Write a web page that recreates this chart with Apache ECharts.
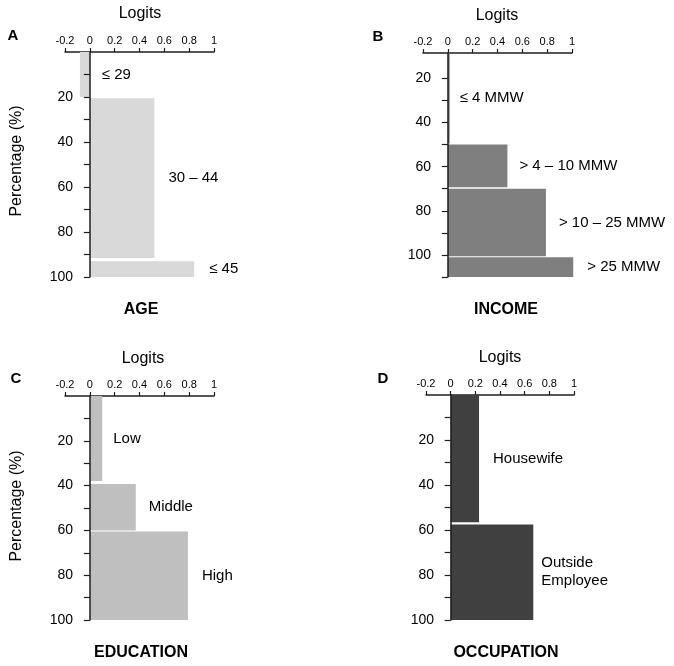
<!DOCTYPE html>
<html>
<head>
<meta charset="utf-8">
<script src="https://cdn.jsdelivr.net/npm/echarts@6/dist/echarts.min.js"></script>
<style>
html,body{margin:0;padding:0;background:#fff;}
#chart{width:674px;height:666px;}
</style>
</head>
<body>
<div id="chart"></div>
<script>
// ---- Data ----
const xTicksMin = -0.2, xTicksMax = 1, xTickStep = 0.2;

const ageLabels = ['≤ 29', '30 – 44', '≤ 45'];
const ageStart  = [0, 20.5, 93];
const ageEnd    = [20, 91.5, 100];
const ageLogits = [-0.08, 0.52, 0.84];

const incomeLabels = ['≤ 4 MMW', '> 4 – 10 MMW', '> 10 – 25 MMW', '> 25 MMW'];
const incomeStart  = [8.5, 50, 70, 101];
const incomeEnd    = [49.5, 69.3, 100.6, 110];
const incomeLogits = [0.015, 0.48, 0.79, 1.01];

const eduLabels = ['Low', 'Middle', 'High'];
const eduStart  = [0, 39.3, 60.5];
const eduEnd    = [38, 60, 100];
const eduLogits = [0.10, 0.37, 0.79];

const occLabels = ['Housewife', 'Outside\nEmployee'];
const occStart  = [0, 57.5];
const occEnd    = [56.5, 100];
const occLogits = [0.23, 0.67];

const yTicks100 = [10, 20, 30, 40, 50, 60, 70, 80, 90, 100];
const yTicks110 = [20, 30, 40, 50, 60, 70, 80, 90, 100, 110];
const yLabelVals = [20, 40, 60, 80, 100];

// ---- Layout ----
const FONT = 'Liberation Sans, Arial, Helvetica, sans-serif';
const AX = '#1e1e1e';

const panels = [
  {grid:{left:65, top:52, width:149, height:225}, yMin:0, yMax:100, ticks:yTicks100,
   labels:ageLabels, s:ageStart, e:ageEnd, v:ageLogits, color:'#d9d9d9', lblOff:[12,14,15]},
  {grid:{left:423, top:53, width:149, height:224}, yMin:8.5, yMax:110, ticks:yTicks110,
   labels:incomeLabels, s:incomeStart, e:incomeEnd, v:incomeLogits, color:'#7f7f7f', lblOff:[10,12,13,14]},
  {grid:{left:65, top:396, width:149, height:224}, yMin:0, yMax:100, ticks:yTicks100,
   labels:eduLabels, s:eduStart, e:eduEnd, v:eduLogits, color:'#bfbfbf', lblOff:[11,13,14]},
  {grid:{left:426, top:395, width:148, height:225}, yMin:0, yMax:100, ticks:yTicks100,
   labels:occLabels, s:occStart, e:occEnd, v:occLogits, color:'#404040', lblOff:[14,8]}
];

const grids = [], xAxes = [], yAxes = [], series = [];
panels.forEach((p, i) => {
  grids.push(p.grid);
  xAxes.push({
    type:'value', gridIndex:i, position:'top', min:xTicksMin, max:xTicksMax, interval:xTickStep,
    axisLine:{show:true, onZero:false, lineStyle:{color:AX, width:1.5}},
    axisTick:{show:true, length:4, lineStyle:{color:AX, width:1.2}},
    axisLabel:{show:true, margin:6, color:'#000', fontSize:11, fontFamily:FONT,
      formatter: v => String(Math.round(v*10)/10)},
    splitLine:{show:false}
  });
  yAxes.push({
    type:'value', gridIndex:i, inverse:true, min:p.yMin, max:p.yMax, z:5,
    axisLine:{show:true, onZero:true, lineStyle:{color:AX, width:1.5}},
    axisTick:{show:true, length:6, customValues:p.ticks, lineStyle:{color:AX, width:1.2}},
    axisLabel:{show:true, margin:-8, color:'#000', fontSize:14, fontFamily:FONT, customValues:yLabelVals},
    splitLine:{show:false}
  });
  const labels = p.labels, offs = p.lblOff, color = p.color;
  series.push({
    type:'custom', xAxisIndex:i, yAxisIndex:i, z:2,
    data: labels.map((l, k) => [p.s[k], p.e[k], p.v[k]]),
    encode:{x:2, y:[0,1]},
    renderItem: function(params, api) {
      const s = api.value(0), e = api.value(1), v = api.value(2);
      const a = api.coord([0, s]);
      const b = api.coord([v, e]);
      const x = Math.min(a[0], b[0]), y = Math.min(a[1], b[1]);
      const w = Math.abs(b[0]-a[0]), h = Math.abs(b[1]-a[1]);
      const lp = api.coord([Math.max(v, 0), (s+e)/2]);
      return {type:'group', children:[
        {type:'rect', shape:{x:x, y:y, width:w, height:h}, style:{fill:color}},
        {type:'text', x: lp[0] + offs[params.dataIndex], y: lp[1],
          style:{text: labels[params.dataIndex], fill:'#000', fontSize:15, fontFamily:FONT,
                 align:'left', verticalAlign:'middle', lineHeight:18}}
      ]};
    }
  });
});

function txt(x, y, text, size, bold, rot) {
  return {type:'text', x:x, y:y, rotation: rot || 0,
    style:{text:text, fill:'#000', fontSize:size, fontWeight: bold ? 'bold' : 'normal',
      fontFamily:FONT, align:'center', verticalAlign:'middle'}};
}

const graphics = [
  txt(140, 14, 'Logits', 16), txt(497, 16, 'Logits', 16),
  txt(143, 359, 'Logits', 16), txt(500, 358, 'Logits', 16),
  txt(13, 36, 'A', 15, true), txt(378, 37, 'B', 15, true),
  txt(16, 379, 'C', 15, true), txt(383, 379, 'D', 15, true),
  txt(141, 310, 'AGE', 16, true), txt(506, 310, 'INCOME', 16, true),
  txt(141, 653, 'EDUCATION', 16, true), txt(506, 653, 'OCCUPATION', 16, true),
  txt(17, 161, 'Percentage (%)', 16, false, Math.PI/2),
  txt(17, 506, 'Percentage (%)', 16, false, Math.PI/2)
];

const chart = echarts.init(document.getElementById('chart'), null, {renderer:'canvas'});
chart.setOption({
  animation:false,
  backgroundColor:'#fff',
  grid:grids, xAxis:xAxes, yAxis:yAxes, series:series,
  graphic:graphics
});
</script>
</body>
</html>
